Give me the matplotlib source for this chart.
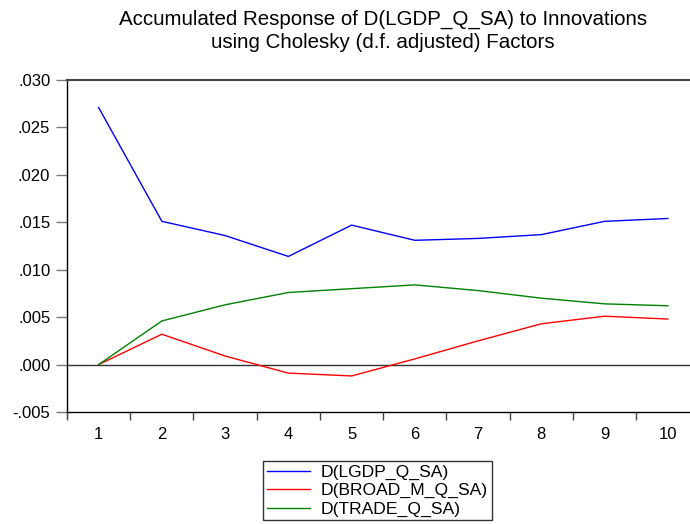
import matplotlib.pyplot as plt
import numpy as np
from matplotlib.ticker import FuncFormatter, FixedLocator

plt.rcParams['font.family'] = ['Liberation Sans', 'DejaVu Sans']

periods = np.arange(1, 11)
lgdp = [0.0271, 0.0151, 0.0136, 0.0114, 0.0147, 0.0131, 0.0133, 0.0137, 0.0151, 0.0154]
broad = [0.0000, 0.0032, 0.0009, -0.0009, -0.0012, 0.0006, 0.0025, 0.0043, 0.0051, 0.0048]
trade = [0.0000, 0.0046, 0.0063, 0.0076, 0.0080, 0.0084, 0.0078, 0.0070, 0.0064, 0.0062]
labels = ['D(LGDP_Q_SA)', 'D(BROAD_M_Q_SA)', 'D(TRADE_Q_SA)']

fig = plt.figure(figsize=(6.9, 5.24), dpi=100)
ax = fig.add_axes([67 / 690, 112 / 524, 623 / 690, 332 / 524])

ax.axhline(0, color='#333333', lw=1, zorder=1)
l1, = ax.plot(periods, lgdp, color='#0000ff', lw=1)
l2, = ax.plot(periods, broad, color='#ff0000', lw=1)
l3, = ax.plot(periods, trade, color='#008000', lw=1)

ax.set_xlim(0.5, 10.35)
ax.set_ylim(-0.005, 0.030)
ax.set_yticks(np.arange(-0.005, 0.0301, 0.005))
ax.yaxis.set_major_formatter(FuncFormatter(lambda v, p: ('%.3f' % v).replace('0.', '.')))
ax.set_xticks(periods)
ax.xaxis.set_minor_locator(FixedLocator(np.arange(0.5, 11, 1)))
ax.tick_params(axis='x', which='major', length=0, pad=11, labelsize=12)
ax.tick_params(axis='x', which='minor', length=6, width=1, color='#444444', direction='out')
ax.tick_params(axis='y', length=8, width=1, color='#777777', pad=4, labelsize=12)

ax.spines['right'].set_visible(False)
ax.spines['top'].set_color('#444444')
ax.spines['top'].set_linewidth(1.5)
for s in ['left', 'bottom']:
    ax.spines[s].set_color('black')
    ax.spines[s].set_linewidth(1)

fig.text(383 / 690, 1 - 10 / 524, 'Accumulated Response of D(LGDP_Q_SA) to Innovations\nusing Cholesky (d.f. adjusted) Factors',
         ha='center', va='top', fontsize=14.8, linespacing=1.22)

leg = fig.legend([l1, l2, l3], labels, loc='upper left', bbox_to_anchor=(263 / 690, 1 - 461 / 524),
                 borderaxespad=0, fancybox=False, edgecolor='#333333', framealpha=1, fontsize=12.6,
                 handlelength=2.5, labelspacing=0.18, borderpad=0.2, handletextpad=0.6)
leg.get_frame().set_linewidth(1)

fig.savefig('out.png', dpi=100)
